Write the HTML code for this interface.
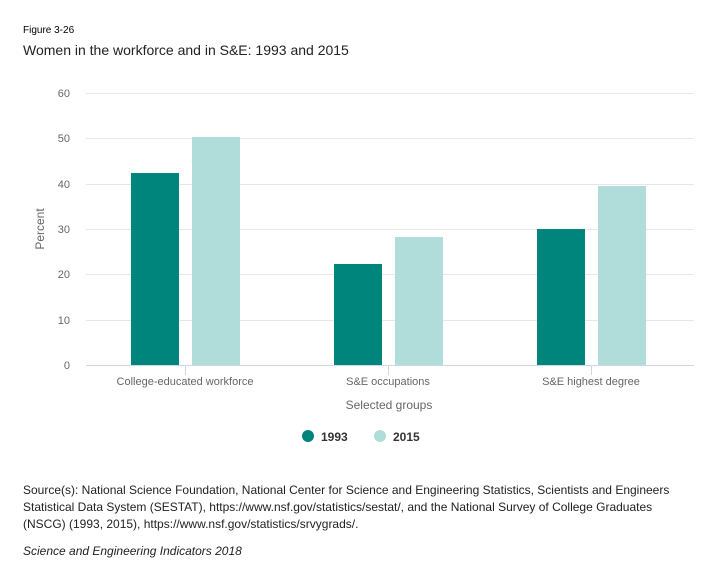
<!DOCTYPE html>
<html><head><meta charset="utf-8"><style>
body{margin:0;background:#fff;width:724px;height:583px;overflow:hidden;font-family:"Liberation Sans",sans-serif;}
</style></head><body>
<svg width="724" height="583" xmlns="http://www.w3.org/2000/svg" font-family="Liberation Sans, sans-serif">
<rect width="724" height="583" fill="#fff"/>
<text x="23" y="33" font-size="10" fill="#000">Figure 3-26</text>
<text x="23" y="55" font-size="14" fill="#222">Women in the workforce and in S&amp;E: 1993 and 2015</text>
<g stroke="#e6e6e6" stroke-width="1">
<line x1="86" x2="694" y1="93.5" y2="93.5"/>
<line x1="86" x2="694" y1="138.5" y2="138.5"/>
<line x1="86" x2="694" y1="184.5" y2="184.5"/>
<line x1="86" x2="694" y1="229.5" y2="229.5"/>
<line x1="86" x2="694" y1="274.5" y2="274.5"/>
<line x1="86" x2="694" y1="320.5" y2="320.5"/>
</g>
<g font-size="11" fill="#666" text-anchor="end">
<text x="70" y="97">60</text><text x="70" y="142">50</text><text x="70" y="188">40</text>
<text x="70" y="233">30</text><text x="70" y="278">20</text><text x="70" y="324">10</text><text x="70" y="369">0</text>
</g>
<text transform="translate(44,229) rotate(-90)" font-size="12" fill="#666" text-anchor="middle">Percent</text>
<g fill="#00857d">
<rect x="131" y="173" width="48" height="192"/>
<rect x="334" y="264" width="48" height="101"/>
<rect x="537" y="229" width="48" height="136"/>
</g>
<g fill="#b0ddd9">
<rect x="192" y="137" width="48" height="228"/>
<rect x="395" y="237" width="48" height="128"/>
<rect x="598" y="186" width="48" height="179"/>
</g>
<g stroke="#ccd6eb" stroke-width="1">
<line x1="86" x2="694" y1="365.5" y2="365.5"/>
<line x1="185.5" x2="185.5" y1="365" y2="375"/>
<line x1="388.5" x2="388.5" y1="365" y2="375"/>
<line x1="591.5" x2="591.5" y1="365" y2="375"/>
</g>
<g font-size="11" fill="#666" text-anchor="middle">
<text x="185" y="385">College-educated workforce</text>
<text x="388" y="385">S&amp;E occupations</text>
<text x="591" y="385">S&amp;E highest degree</text>
</g>
<text x="389" y="409" font-size="12" fill="#666" text-anchor="middle">Selected groups</text>
<circle cx="308" cy="436" r="6" fill="#00857d"/>
<text x="321" y="441" font-size="12" font-weight="bold" fill="#333">1993</text>
<circle cx="380" cy="436" r="6" fill="#b0ddd9"/>
<text x="393" y="441" font-size="12" font-weight="bold" fill="#333">2015</text>
<g font-size="12" fill="#222">
<text x="23" y="494">Source(s): National Science Foundation, National Center for Science and Engineering Statistics, Scientists and Engineers</text>
<text x="23" y="511">Statistical Data System (SESTAT), https://www.nsf.gov/statistics/sestat/, and the National Survey of College Graduates</text>
<text x="23" y="528">(NSCG) (1993, 2015), https://www.nsf.gov/statistics/srvygrads/.</text>
<text x="23" y="555" font-style="italic">Science and Engineering Indicators 2018</text>
</g>
</svg>
</body></html>
